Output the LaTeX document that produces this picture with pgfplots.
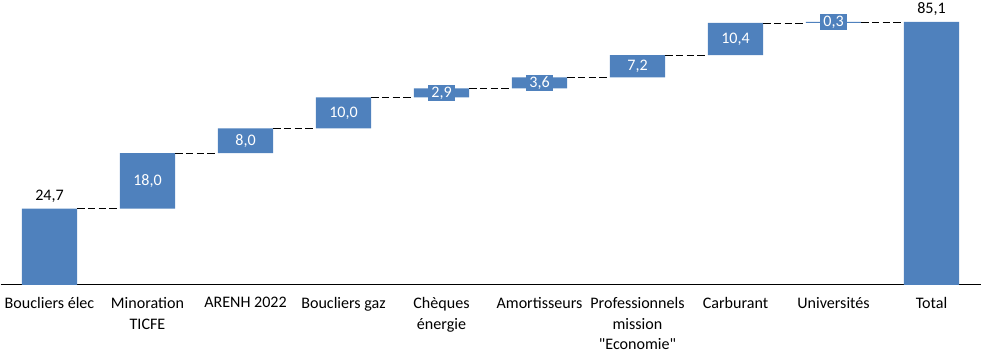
\documentclass[border=0pt]{standalone}
\usepackage{pgfplots}
\pgfplotsset{compat=1.18}
\usepackage{fontspec}
\setmainfont{Carlito}[Ligatures=TeXOff]
\definecolor{barblue}{HTML}{4F81BD}
\begin{document}
\fontsize{12}{15}\selectfont
\begin{tikzpicture}
\begin{axis}[
  scale only axis,
  width=732pt, height=207.75pt,
  xmin=-0.5, xmax=9.5, ymin=0, ymax=90,
  axis x line*=bottom, hide y axis,
  axis line style={black, line width=0.75pt},
  xtick={0,...,9}, major tick length=0pt,
  xticklabels={{Boucliers élec},{Minoration\\TICFE},{ARENH 2022},{Boucliers gaz},{Chèques\\énergie},{Amortisseurs},{Professionnels\\mission\\"Economie"},{Carburant},{Universités},{Total}},
  xticklabel style={align=center, font=\fontsize{12}{15.5}\selectfont, inner sep=2pt, yshift=-7pt},
  ybar stacked, bar width=41.25pt,
  clip=false,
  unbounded coords=jump,
]
\addplot[draw=none, fill=none] coordinates {(0,0) (1,24.7) (2,42.7) (3,50.7) (4,60.7) (5,63.6) (6,67.2) (7,74.4) (8,84.8) (9,0)};
\addplot[draw=none, fill=barblue] coordinates {(0,24.7) (1,18.0) (2,8.0) (3,10.0) (4,2.9) (5,3.6) (6,7.2) (7,10.4) (8,0.3) (9,85.1)};
\end{axis}
\begin{axis}[
  scale only axis,
  width=732pt, height=207.75pt,
  xmin=-0.5, xmax=9.5, ymin=0, ymax=90,
  hide axis, clip=false,
  unbounded coords=jump,
]
% connectors
\addplot[black, dash pattern=on 5.5pt off 2.5pt, line width=0.6pt] coordinates {
 (0.282,24.7) (0.718,24.7) (nan,nan)
 (1.282,42.7) (1.718,42.7) (nan,nan)
 (2.282,50.7) (2.718,50.7) (nan,nan)
 (3.282,60.7) (3.718,60.7) (nan,nan)
 (4.282,63.6) (4.718,63.6) (nan,nan)
 (5.282,67.2) (5.718,67.2) (nan,nan)
 (6.282,74.4) (6.718,74.4) (nan,nan)
 (7.282,84.8) (7.718,84.8) (nan,nan)
 (8.282,85.1) (8.718,85.1)
};
% inner labels
\addplot[draw=none, mark=none, point meta=explicit symbolic, nodes near coords,
  every node near coord/.style={anchor=center, fill=barblue, text=white, inner xsep=2.2pt, inner ysep=1.3pt, font=\fontsize{12}{14}\selectfont}]
 coordinates {(1,33.7)[18,0] (2,46.7)[8,0] (3,55.7)[10,0] (4,62.15)[2,9] (5,65.4)[3,6] (6,70.8)[7,2] (7,79.6)[10,4] (8,84.95)[0,3]};
% outer labels
\addplot[draw=none, mark=none, point meta=explicit symbolic, nodes near coords,
  every node near coord/.style={anchor=south, text=black, inner sep=2pt, yshift=2.5pt, font=\fontsize{12}{14}\selectfont}]
 coordinates {(0,24.7)[24,7] (9,85.1)[85,1]};
\end{axis}
\end{tikzpicture}
\end{document}
